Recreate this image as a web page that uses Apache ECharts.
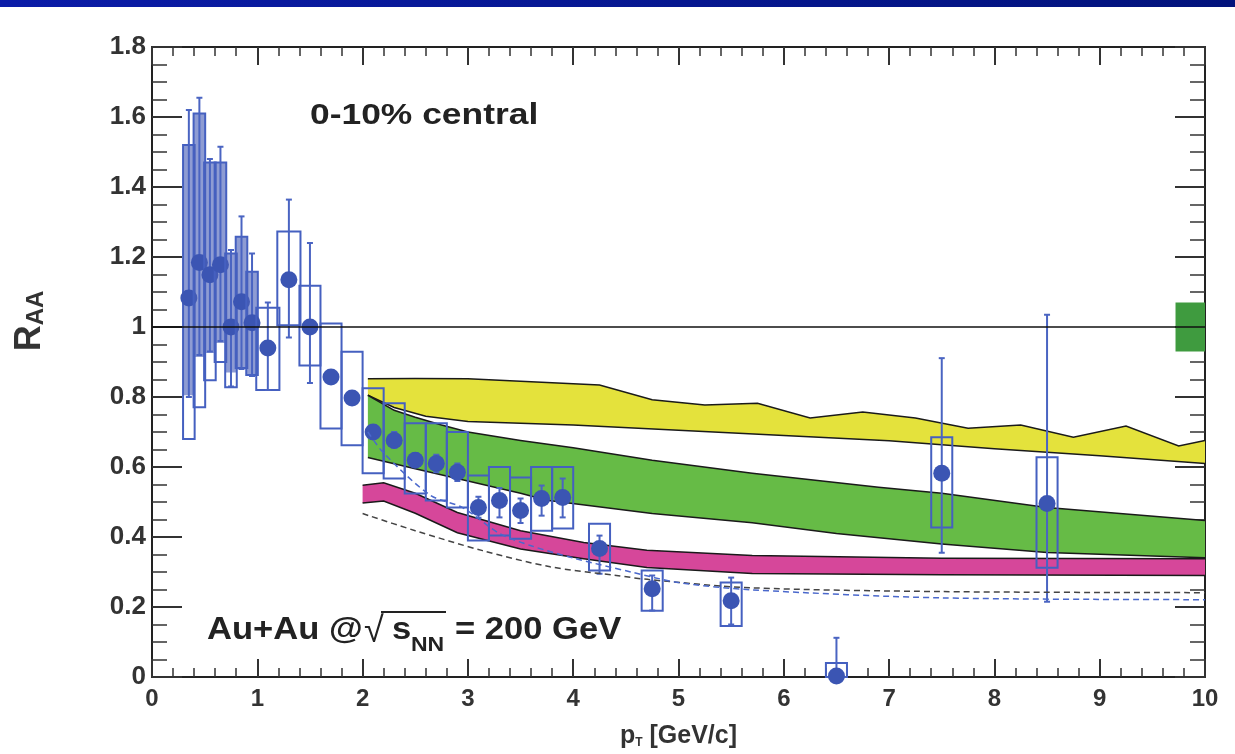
<!DOCTYPE html>
<html><head><meta charset="utf-8">
<script src="https://cdn.jsdelivr.net/npm/echarts@6/dist/echarts.min.js"></script>
<style>html,body{margin:0;padding:0;background:#fff}#c{width:1235px;height:754px}</style>
</head><body><div id="c"></div>
<script>
// ---------- data ----------
const pt     = [0.35,0.45,0.55,0.65,0.75,0.85,0.95,1.1,1.3,1.5,1.7,1.9,2.1,2.3,2.5,2.7,2.9,3.1,3.3,3.5,3.7,3.9,4.25,4.75,5.5,6.5,7.5,8.5];
const raa    = [1.083,1.184,1.149,1.178,1.0,1.072,1.012,0.94,1.135,1.0,0.857,0.797,0.70,0.676,0.619,0.61,0.585,0.484,0.504,0.476,0.51,0.513,0.367,0.252,0.218,0.003,0.582,0.496];
const statLo = [0.80,0.92,0.93,0.96,0.83,0.88,0.86,0.82,0.97,0.84,0.84,0.78,0.68,0.655,0.60,0.585,0.56,0.455,0.456,0.44,0.461,0.456,0.295,0.19,0.15,0.0,0.355,0.215];
const statHi = [1.62,1.655,1.48,1.515,1.22,1.316,1.21,1.07,1.364,1.24,0.875,0.815,0.72,0.70,0.64,0.635,0.61,0.515,0.54,0.51,0.547,0.567,0.404,0.29,0.284,0.112,0.911,1.035];
const sysLo  = [0.68,0.771,0.848,0.90,0.828,0.883,0.863,0.82,1.005,0.89,0.71,0.662,0.582,0.567,0.524,0.504,0.484,0.39,0.404,0.395,0.418,0.424,0.304,0.189,0.146,0.0,0.427,0.312];
const sysHi  = [1.52,1.61,1.47,1.47,1.21,1.258,1.158,1.055,1.273,1.118,1.01,0.929,0.825,0.782,0.725,0.725,0.70,0.576,0.60,0.57,0.60,0.60,0.438,0.304,0.27,0.04,0.685,0.628];
const shadeLo = [0.805,0.914,0.926,0.954,0.87,0.883,0.863,null,null,null,null,null,null,null,null,null,null,null,null,null,null,null,null,null,null,null,null,null];
const shadeHi = [1.52,1.61,1.47,1.47,1.21,1.258,1.158,null,null,null,null,null,null,null,null,null,null,null,null,null,null,null,null,null,null,null,null,null];

// theory bands
const yellowHiX = [2.05,2.5,3.0,3.5,4.0,4.25,4.75,5.25,5.75,6.25,6.75,7.25,7.75,8.25,8.75,9.25,9.75,10];
const yellowHiY = [0.852,0.853,0.852,0.845,0.838,0.834,0.792,0.777,0.782,0.740,0.757,0.740,0.711,0.720,0.685,0.717,0.660,0.676];
const yellowLoX = [2.05,2.3,2.6,3.0,4.0,5.0,6.0,7.0,8.0,9.0,10];
const yellowLoY = [0.805,0.77,0.745,0.73,0.72,0.705,0.69,0.675,0.652,0.632,0.61];

const greenHiX = [2.05,2.3,2.5,2.75,3.0,3.5,4.0,4.75,5.7,6.9,7.5,8.5,10];
const greenHiY = [0.805,0.762,0.742,0.72,0.70,0.676,0.655,0.619,0.582,0.542,0.525,0.484,0.447];
const greenLoX = [2.05,2.5,3.0,3.5,3.75,4.75,5.7,6.5,7.5,8.5,10];
const greenLoY = [0.627,0.595,0.56,0.525,0.505,0.467,0.441,0.41,0.38,0.356,0.341];

const magHiX = [2.0,2.2,2.5,2.9,3.5,4.1,4.7,5.7,7.5,10];
const magHiY = [0.548,0.555,0.525,0.47,0.418,0.384,0.362,0.347,0.339,0.338];
const magLoX = [2.0,2.2,2.5,2.9,3.5,4.1,4.7,5.7,7.5,10];
const magLoY = [0.497,0.503,0.468,0.412,0.366,0.338,0.313,0.296,0.292,0.29];

// dashed curves
const blackDashX = [2.0,2.5,3.14,3.78,4.41,4.73,5.68,7.5,10];
const blackDashY = [0.467,0.418,0.361,0.315,0.29,0.278,0.255,0.244,0.241];
const blueDashX  = [2.05,2.2,2.64,2.95,3.3,3.6,4.0,4.55,5.0,5.7,7.5,10];
const blueDashY  = [0.70,0.64,0.52,0.484,0.41,0.375,0.34,0.30,0.27,0.249,0.226,0.221];

// reference line and normalization box
const unityX = [0, 10];
const unityY = [1, 1];
const normX = [9.72, 10];
const normY = [0.93, 1.07];

// axis ticks
const xMin = 0, xMax = 10, xStep = 1;
const yMin = 0, yMax = 1.8, yStep = 0.2;

// ---------- chart ----------
const FONT = '"Liberation Sans", Arial, sans-serif';
const chart = echarts.init(document.getElementById('c'), null, {renderer: 'canvas'});

function zip(xs, ys) { return xs.map((x, i) => [x, ys[i]]); }

function bandSeries(hx, hy, lx, ly, color) {
  return {
    type: 'custom', xAxisIndex: 0, yAxisIndex: 0, silent: true, clip: true,
    data: [[hx[0], hy[0]]],
    renderItem: function (params, api) {
      const top = hx.map((x, i) => api.coord([x, hy[i]]));
      const bot = lx.map((x, i) => api.coord([x, ly[i]]));
      return { type: 'group', children: [
        { type: 'polygon', shape: { points: top.concat(bot.slice().reverse()) }, style: { fill: color } },
        { type: 'polyline', shape: { points: top }, style: { stroke: '#1a1a1a', lineWidth: 1.5, fill: null } },
        { type: 'polyline', shape: { points: bot }, style: { stroke: '#1a1a1a', lineWidth: 1.5, fill: null } }
      ]};
    }
  };
}

const pointData = pt.map((x, i) => [x, raa[i], statLo[i], statHi[i], sysLo[i], sysHi[i],
  shadeLo[i] == null ? '-' : shadeLo[i], shadeHi[i] == null ? '-' : shadeHi[i]]);

const BLUE = '#3b55b3';
const pointSeries = {
  type: 'custom', xAxisIndex: 0, yAxisIndex: 0, silent: true,
  dimensions: ['x','y','sl','sh','bl','bh','fl','fh'],
  encode: { x: 0, y: 1 },
  data: pointData,
  renderItem: function (params, api) {
    const x = api.value(0), y = api.value(1);
    const hw = x < 1 ? 0.055 : (x < 1.4 ? 0.11 : 0.1);
    const ch = [];
    const fl = api.value(6), fh = api.value(7);
    if (isFinite(fl) && isFinite(fh)) {
      const a = api.coord([x - hw, fh]), b = api.coord([x + hw, fl]);
      ch.push({ type: 'rect', shape: { x: a[0], y: a[1], width: b[0] - a[0], height: b[1] - a[1] },
        style: { fill: 'rgba(72,96,184,0.62)', stroke: null } });
    }
    const b1 = api.coord([x - hw, api.value(5)]), b2 = api.coord([x + hw, api.value(4)]);
    ch.push({ type: 'rect', shape: { x: b1[0], y: b1[1], width: b2[0] - b1[0], height: b2[1] - b1[1] },
      style: { fill: null, stroke: '#4560c0', lineWidth: 2 } });
    const s1 = api.coord([x, api.value(3)]), s2 = api.coord([x, api.value(2)]);
    ch.push({ type: 'line', shape: { x1: s1[0], y1: s1[1], x2: s2[0], y2: s2[1] }, style: { stroke: '#4a64c2', lineWidth: 2 } });
    ch.push({ type: 'line', shape: { x1: s1[0] - 3, y1: s1[1], x2: s1[0] + 3, y2: s1[1] }, style: { stroke: '#4a64c2', lineWidth: 2 } });
    ch.push({ type: 'line', shape: { x1: s2[0] - 3, y1: s2[1], x2: s2[0] + 3, y2: s2[1] }, style: { stroke: '#4a64c2', lineWidth: 2 } });
    const c = api.coord([x, y]);
    ch.push({ type: 'circle', shape: { cx: c[0], cy: c[1], r: 8.5 }, style: { fill: BLUE } });
    return { type: 'group', children: ch };
  }
};

const normSeries = {
  type: 'custom', xAxisIndex: 0, yAxisIndex: 0, silent: true,
  data: [[normX[0], normY[0]]],
  renderItem: function (params, api) {
    const a = api.coord([normX[0], normY[1]]), b = api.coord([normX[1], normY[0]]);
    return { type: 'rect', shape: { x: a[0], y: a[1], width: b[0] - a[0], height: b[1] - a[1] }, style: { fill: '#3f9b3f' } };
  }
};

function axisCommon(isX, showLabel) {
  return {
    min: isX ? xMin : yMin, max: isX ? xMax : yMax, interval: isX ? xStep : yStep,
    type: 'value',
    axisLine: { show: true, onZero: false, lineStyle: { color: '#222', width: 2 } },
    axisTick: { show: true, inside: true, length: isX ? 18 : 30, lineStyle: { color: '#333', width: 2 } },
    minorTick: { show: true, splitNumber: isX ? 5 : 4, length: isX ? 9 : 15, lineStyle: { color: '#333', width: 1.5 } },
    splitLine: { show: false },
    axisLabel: { show: showLabel, fontFamily: FONT, fontSize: isX ? 24 : 26, fontWeight: 'bold', color: '#333', margin: isX ? 10 : 6 }
  };
}

const option = {
  animation: false,
  backgroundColor: '#ffffff',
  grid: { left: 152, right: 30, top: 47, bottom: 77, containLabel: false },
  xAxis: [
    Object.assign(axisCommon(true, true), {
      position: 'bottom',
      name: '{p|p}{t|T}{g| [GeV/c]}', nameLocation: 'middle', nameGap: 47,
      nameTextStyle: { rich: {
        p: { fontFamily: FONT, fontSize: 25, fontWeight: 'bold', color: '#333' },
        t: { fontFamily: FONT, fontSize: 12, fontWeight: 'bold', color: '#333', verticalAlign: 'bottom', lineHeight: 14 },
        g: { fontFamily: FONT, fontSize: 25, fontWeight: 'bold', color: '#333' } } }
    }),
    Object.assign(axisCommon(true, false), { position: 'top' })
  ],
  yAxis: [
    Object.assign(axisCommon(false, true), { position: 'left' }),
    Object.assign(axisCommon(false, false), { position: 'right' })
  ],
  graphic: [
    { type: 'rect', left: 0, top: 0, shape: { width: 1235, height: 7 },
      style: { fill: { type: 'linear', x: 0, y: 0, x2: 1, y2: 0, colorStops: [{ offset: 0, color: '#0b1ca8' }, { offset: 1, color: '#02137c' }] } } },
    { type: 'text', x: 30, y: 321, rotation: Math.PI / 2,
      style: { text: '{r|R}{s|AA}', align: 'center', verticalAlign: 'middle',
        rich: { r: { fontFamily: FONT, fontSize: 36, fontWeight: 'bold', fill: '#333', lineHeight: 36 },
                s: { fontFamily: FONT, fontSize: 24, fontWeight: 'bold', fill: '#333', lineHeight: 24, verticalAlign: 'bottom' } } } },
    { type: 'text', x: 310, y: 116, scaleX: 1.18,
      style: { text: '0-10% central', font: 'bold 30px ' + FONT, fill: '#222', align: 'left', verticalAlign: 'middle' } },
    { type: 'text', x: 207, y: 630, scaleX: 1.08,
      style: { text: 'Au+Au @', font: 'bold 32px ' + FONT, fill: '#222', align: 'left', verticalAlign: 'middle' } },
    { type: 'text', x: 364, y: 632,
      style: { text: '\u221A', font: '36px ' + FONT, fill: '#222', align: 'left', verticalAlign: 'middle' } },
    { type: 'line', shape: { x1: 381, y1: 612, x2: 446, y2: 612 }, style: { stroke: '#222', lineWidth: 2 } },
    { type: 'text', x: 392, y: 630, scaleX: 1.08,
      style: { text: 's', font: 'bold 32px ' + FONT, fill: '#222', align: 'left', verticalAlign: 'middle' } },
    { type: 'text', x: 411, y: 645, scaleX: 1.15,
      style: { text: 'NN', font: 'bold 20px ' + FONT, fill: '#222', align: 'left', verticalAlign: 'middle' } },
    { type: 'text', x: 455, y: 630, scaleX: 1.08,
      style: { text: '= 200 GeV', font: 'bold 32px ' + FONT, fill: '#222', align: 'left', verticalAlign: 'middle' } }
  ],
  series: [
    bandSeries(yellowHiX, yellowHiY, yellowLoX, yellowLoY, '#e4e23c'),
    bandSeries(greenHiX, greenHiY, greenLoX, greenLoY, '#66bb46'),
    bandSeries(magHiX, magHiY, magLoX, magLoY, '#d6479a'),
    { type: 'line', data: zip(blackDashX, blackDashY), symbol: 'none', smooth: 0.3, silent: true,
      lineStyle: { color: '#444', width: 1.5, type: [6, 4] } },
    { type: 'line', data: zip(blueDashX, blueDashY), symbol: 'none', smooth: 0.3, silent: true,
      lineStyle: { color: '#4a68cc', width: 1.5, type: [6, 4] } },
    { type: 'line', data: zip(unityX, unityY), symbol: 'none', silent: true,
      lineStyle: { color: '#111', width: 1.5 } },
    normSeries,
    pointSeries
  ]
};
chart.setOption(option);
</script>
</body></html>
